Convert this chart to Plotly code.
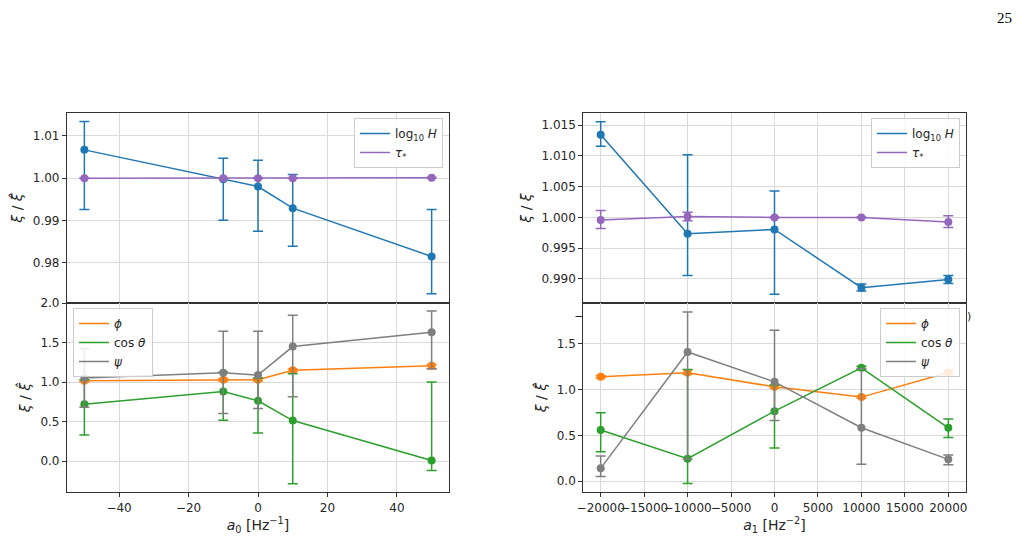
import plotly.graph_objects as go

# ---------------- data ----------------
a0 = [-50, -10, 0, 10, 50]
a1 = [-20000, -10000, 0, 10000, 20000]

# left column (a0 scan) – top panel
logH_a0 = [1.00669, 0.99976, 0.99803, 0.99291, 0.98150]
logH_a0_hi = [1.01339, 1.00472, 1.00425, 1.00087, 0.99260]
logH_a0_lo = [0.99260, 0.99008, 0.98748, 0.98394, 0.97268]
tau_a0 = [1.0000, 1.0000, 1.0000, 1.0000, 1.0001]
tau_a0_hi = [1.0001, 1.0001, 1.0001, 1.0001, 1.0002]
tau_a0_lo = [0.9999, 0.9999, 0.9999, 0.9999, 1.0000]

# left column – bottom panel
phi_a0 = [1.017, 1.030, 1.030, 1.148, 1.207]
phi_a0_hi = [1.030, 1.045, 1.045, 1.165, 1.222]
phi_a0_lo = [1.003, 1.015, 1.015, 1.130, 1.170]
cos_a0 = [0.720, 0.881, 0.763, 0.513, 0.008]
cos_a0_hi = [1.030, 1.127, 1.050, 1.106, 1.000]
cos_a0_lo = [0.330, 0.517, 0.356, -0.288, -0.119]
psi_a0 = [1.050, 1.119, 1.089, 1.449, 1.631]
psi_a0_hi = [1.420, 1.644, 1.644, 1.847, 1.898]
psi_a0_lo = [0.682, 0.602, 0.665, 0.814, 1.169]

# right column (a1 scan) – top panel
logH_a1 = [1.01345, 0.99733, 0.99804, 0.98856, 0.98987]
logH_a1_hi = [1.01558, 1.01019, 1.00430, 0.98916, 0.99052]
logH_a1_lo = [1.01160, 0.99052, 0.98747, 0.98802, 0.98922]
tau_a1 = [0.99956, 1.00016, 1.00000, 1.00000, 0.99924]
tau_a1_hi = [1.00114, 1.00082, 1.00005, 1.00005, 1.00027]
tau_a1_lo = [0.99820, 0.99946, 0.99995, 0.99995, 0.99837]

# right column – bottom panel
phi_a1 = [1.138, 1.181, 1.029, 0.917, 1.185]
phi_a1_hi = [1.150, 1.215, 1.045, 0.930, 1.200]
phi_a1_lo = [1.125, 1.165, 1.015, 0.905, 1.170]
cos_a1 = [0.558, 0.246, 0.764, 1.236, 0.583]
cos_a1_hi = [0.746, 1.217, 1.050, 1.254, 0.678]
cos_a1_lo = [0.322, -0.025, 0.362, 1.214, 0.478]
psi_a1 = [0.141, 1.409, 1.083, 0.583, 0.239]
psi_a1_hi = [0.275, 1.844, 1.645, 1.228, 0.286]
psi_a1_lo = [0.051, 0.240, 0.663, 0.185, 0.181]

C_BLUE, C_ORANGE, C_GREEN, C_PURPLE, C_GRAY = "#1f77b4", "#ff7f0e", "#2ca02c", "#9467bd", "#7f7f7f"
FONT = "DejaVu Sans"
TXT = "#262626"

fig = go.Figure()


def add_series(x, y, hi, lo, color, xa, ya):
    fig.add_trace(go.Scatter(
        x=x, y=y, mode="lines+markers", xaxis=xa, yaxis=ya, showlegend=False,
        line=dict(color=color, width=1.5),
        marker=dict(color=color, size=8),
        error_y=dict(type="data", symmetric=False,
                     array=[h - v for h, v in zip(hi, y)],
                     arrayminus=[v - l for v, l in zip(y, lo)],
                     color=color, thickness=1.5, width=5),
    ))


def add_legend_entry(name, color, legend):
    fig.add_trace(go.Scatter(x=[None], y=[None], mode="lines", name=name,
                             line=dict(color=color, width=1.5), legend=legend,
                             xaxis="x", yaxis="y"))


# top-left
add_series(a0, logH_a0, logH_a0_hi, logH_a0_lo, C_BLUE, "x", "y")
add_series(a0, tau_a0, tau_a0_hi, tau_a0_lo, C_PURPLE, "x", "y")
# bottom-left
add_series(a0, phi_a0, phi_a0_hi, phi_a0_lo, C_ORANGE, "x2", "y2")
add_series(a0, cos_a0, cos_a0_hi, cos_a0_lo, C_GREEN, "x2", "y2")
add_series(a0, psi_a0, psi_a0_hi, psi_a0_lo, C_GRAY, "x2", "y2")
# top-right
add_series(a1, logH_a1, logH_a1_hi, logH_a1_lo, C_BLUE, "x3", "y3")
add_series(a1, tau_a1, tau_a1_hi, tau_a1_lo, C_PURPLE, "x3", "y3")
# bottom-right
add_series(a1, phi_a1, phi_a1_hi, phi_a1_lo, C_ORANGE, "x4", "y4")
add_series(a1, cos_a1, cos_a1_hi, cos_a1_lo, C_GREEN, "x4", "y4")
add_series(a1, psi_a1, psi_a1_hi, psi_a1_lo, C_GRAY, "x4", "y4")

LOGH = "log<sub>10</sub> <i>H</i>"
TAU = "<i>τ</i><sub>*</sub>"
PHI = "<i>ϕ</i>"
COS = "cos <i>θ</i>"
PSI = "<i>ψ</i>"
for leg in ("legend", "legend3"):
    add_legend_entry(LOGH, C_BLUE, leg)
    add_legend_entry(TAU, C_PURPLE, leg)
for leg in ("legend2", "legend4"):
    add_legend_entry(PHI, C_ORANGE, leg)
    add_legend_entry(COS, C_GREEN, leg)
    add_legend_entry(PSI, C_GRAY, leg)

W, H = 1024, 538
XL = [67 / W, 449 / W]
XR = [583.3 / W, 965.7 / W]
YT = [1 - 303 / H, 1 - 113 / H]
YB = [1 - 492.3 / H, 1 - 303 / H]

common_ax = dict(showline=True, linecolor="#333333", linewidth=1.2, mirror=True,
                 showgrid=True, gridcolor="#dadada", gridwidth=1, zeroline=False,
                 ticks="outside", ticklen=4, tickcolor="#333333", tickwidth=1,
                 automargin=False,
                 tickfont=dict(family=FONT, size=12, color=TXT))

ylab_hat = "<i>ξ</i> / <i>ξ̂</i>"
ylab_nohat = "<i>ξ</i> / <i>ξ</i>"
title_font = dict(family=FONT, size=14, color=TXT)

fig.update_layout(
    template="none",
    width=W, height=H, margin=dict(l=0, r=0, t=0, b=0, autoexpand=False),
    paper_bgcolor="white", plot_bgcolor="white",
    font=dict(family=FONT, size=12, color=TXT),
    xaxis=dict(common_ax, domain=XL, anchor="y", range=[-55, 55], dtick=20,
               showticklabels=False, ticks=""),
    yaxis=dict(common_ax, domain=YT, anchor="x", range=[0.9705, 1.0154], dtick=0.01,
               tickformat=".2f",
               title=dict(text=ylab_hat, font=title_font, standoff=6)),
    xaxis2=dict(common_ax, domain=XL, anchor="y2", range=[-55, 55], dtick=20,
                tickangle=0,
                title=dict(text="<i>a</i><sub>0</sub> [Hz<sup>−1</sup>]", font=title_font, standoff=3)),
    yaxis2=dict(common_ax, domain=YB, anchor="x2", range=[-0.395, 2.0005], dtick=0.5,
                tickformat=".1f",
                title=dict(text=ylab_hat, font=title_font, standoff=6)),
    xaxis3=dict(common_ax, domain=XR, anchor="y3", range=[-22000, 22000], dtick=5000,
                showticklabels=False, ticks=""),
    yaxis3=dict(common_ax, domain=YT, anchor="x3", range=[0.98606, 1.0170], dtick=0.005,
                tickformat=".3f",
                title=dict(text=ylab_nohat, font=title_font, standoff=6)),
    xaxis4=dict(common_ax, domain=XR, anchor="y4", range=[-22000, 22000], dtick=5000,
                tickformat="d", tickangle=0,
                title=dict(text="<i>a</i><sub>1</sub> [Hz<sup>−2</sup>]", font=title_font, standoff=3)),
    yaxis4=dict(common_ax, domain=YB, anchor="x4", range=[-0.12, 1.942], dtick=0.5,
                tickformat=".1f",
                title=dict(text=ylab_hat, font=title_font, standoff=6)),
)

leg_common = dict(bgcolor="rgba(255,255,255,0.85)", bordercolor="#cccccc", borderwidth=1,
                  font=dict(family=FONT, size=12, color=TXT), xanchor="right", yanchor="top",
                  tracegroupgap=0, itemwidth=30)
fig.update_layout(
    legend=dict(leg_common, x=443 / W, y=1 - 118 / H),
    legend3=dict(leg_common, x=960 / W, y=1 - 118 / H),
    legend2=dict(leg_common, x=73 / W, y=1 - 308 / H, xanchor="left"),
    legend4=dict(leg_common, x=960 / W, y=1 - 308 / H),
)

# page number and the clipped bits of the hidden tick labels
fig.add_annotation(text="25", x=1014 / W, y=1 - 18 / H, xref="paper", yref="paper",
                   showarrow=False, font=dict(family="Liberation Serif", size=15, color="black"),
                   xanchor="right", yanchor="middle")
fig.add_annotation(text="−", x=579 / W, y=1 - 316 / H, xref="paper", yref="paper",
                   showarrow=False, font=dict(family=FONT, size=12, color=TXT),
                   xanchor="center", yanchor="middle")
fig.add_annotation(text=")", x=965 / W, y=1 - 316 / H, xref="paper", yref="paper",
                   showarrow=False, font=dict(family=FONT, size=11, color=TXT),
                   xanchor="left", yanchor="middle")

fig.write_html("out.html")
